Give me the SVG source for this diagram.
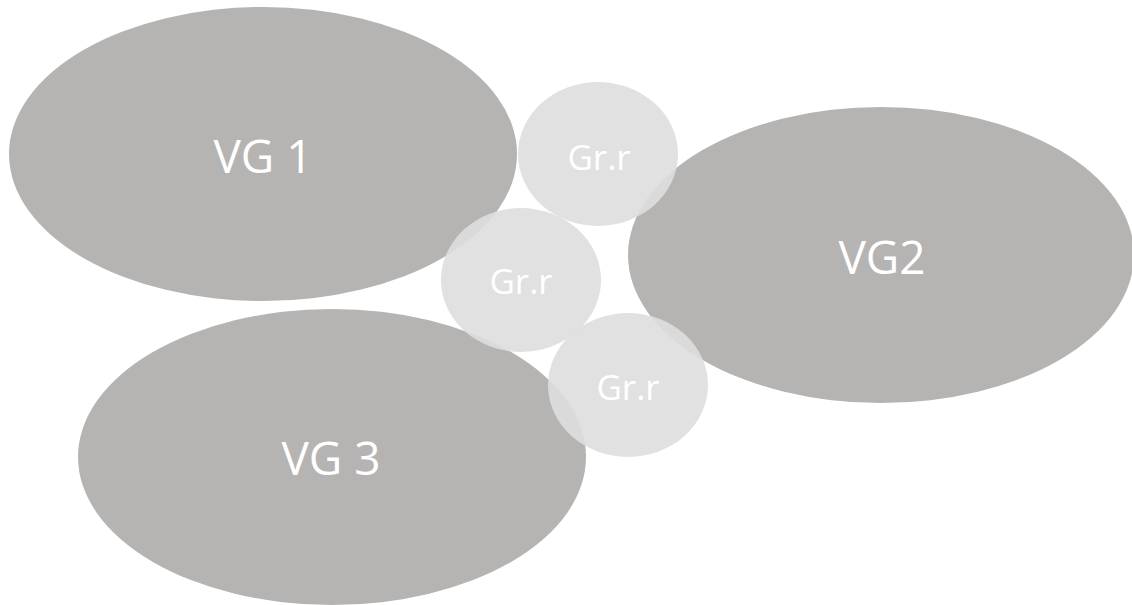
<svg xmlns="http://www.w3.org/2000/svg" width="1132" height="605" viewBox="0 0 1132 605">
<style>
.big{fill:#b5b4b3}
.small{fill:#dedede;fill-opacity:0.9}
.lb{fill:#ffffff;font-family:"Open Sans","Noto Sans","DejaVu Sans",sans-serif;text-anchor:middle}
.lbig{font-size:46px}
.lsmall{font-size:35px}
</style>
<rect width="1132" height="605" fill="#ffffff"/>
<g id="connectors"></g>
<g id="vg1"><ellipse class="big" cx="263" cy="154" rx="254" ry="147"/><text class="lb lbig" x="263" y="173">VG 1</text></g>
<g id="vg2"><ellipse class="big" cx="881" cy="255" rx="253" ry="148"/><text class="lb lbig" x="882" y="274">VG2</text></g>
<g id="vg3"><ellipse class="big" cx="332" cy="457" rx="254" ry="148"/><text class="lb lbig" x="331" y="475">VG 3</text></g>
<g id="grr1"><ellipse class="small" cx="598" cy="154" rx="80" ry="72"/><text class="lb lsmall" x="599" y="170">Gr.r</text></g>
<g id="grr2"><ellipse class="small" cx="521" cy="280" rx="80" ry="72"/><text class="lb lsmall" x="521" y="294">Gr.r</text></g>
<g id="grr3"><ellipse class="small" cx="628" cy="385" rx="80" ry="72"/><text class="lb lsmall" x="628" y="400">Gr.r</text></g>
</svg>
